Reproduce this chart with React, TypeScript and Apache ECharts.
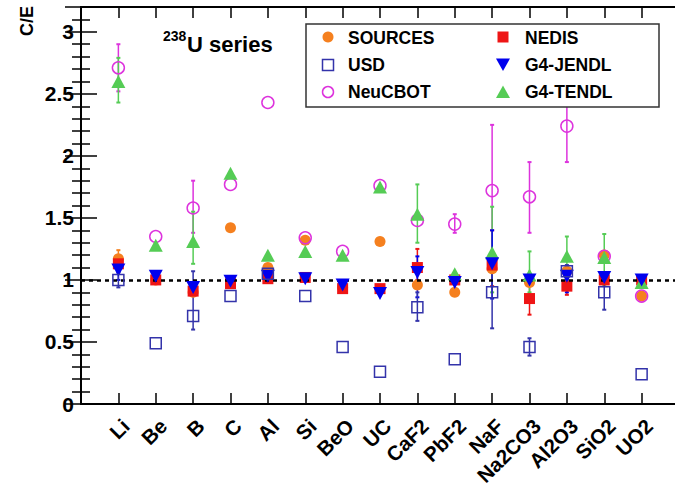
import React, { useEffect, useRef } from "react";
import * as echarts from "echarts";

const categories = ["Li", "Be", "B", "C", "Al", "Si", "BeO", "UC", "CaF2", "PbF2", "NaF", "Na2CO3", "Al2O3", "SiO2", "UO2"];

const sources = [1.17, 1.0, 0.9, 1.42, 1.1, 1.32, 0.94, 1.31, 0.96, 0.9, 1.09, 0.98, 1.07, 1.2, 0.87];
const nedis = [1.13, 1.0, 0.91, 0.97, 1.01, 1.02, 0.93, 0.93, 1.1, 1.0, 1.12, 0.85, 0.95, 1.0, 1.0];
const usd = [1.0, 0.49, 0.71, 0.87, 1.05, 0.87, 0.46, 0.26, 0.78, 0.36, 0.9, 0.46, 1.07, 0.9, 0.24];
const neucbot = [2.71, 1.35, 1.58, 1.77, 2.43, 1.34, 1.23, 1.76, 1.48, 1.45, 1.72, 1.67, 2.24, 1.19, 0.87];
const jendl = [1.08, 1.03, 0.94, 0.99, 1.03, 1.01, 0.96, 0.89, 1.06, 0.98, 1.13, 1.0, 1.03, 1.02, 1.0];
const tendl = [2.6, 1.28, 1.31, 1.86, 1.2, 1.23, 1.2, 1.75, 1.53, 1.05, 1.22, 1.04, 1.19, 1.18, 0.98];

// error bars: low / high (null = none)
const sourcesLo = [1.1, null, null, null, null, null, null, null, null, null, null, null, null, null, null];
const sourcesHi = [1.24, null, null, null, null, null, null, null, null, null, null, null, null, null, null];
const nedisLo = [1.07, null, null, null, null, null, null, null, 1.0, null, 0.95, 0.72, 0.88, null, null];
const nedisHi = [1.2, null, null, null, null, null, null, null, 1.25, null, 1.4, 0.98, 1.02, null, null];
const usdLo = [0.94, null, 0.6, null, null, null, null, null, 0.67, null, 0.61, 0.39, 1.0, 0.76, null];
const usdHi = [1.06, null, 1.07, null, null, null, null, null, 0.9, null, 1.19, 0.53, 1.12, 1.04, null];
const neucbotLo = [2.52, null, 1.38, null, null, null, null, null, null, 1.38, 1.2, 1.38, 1.95, null, null];
const neucbotHi = [2.9, null, 1.8, null, null, null, null, null, null, 1.53, 2.25, 1.95, 2.53, null, null];
const jendlLo = [1.0, null, null, null, null, null, null, null, 0.86, null, 0.85, null, 0.9, null, null];
const jendlHi = [1.15, null, null, null, null, null, null, null, 1.19, null, 1.4, null, 1.1, null, null];
const tendlLo = [2.43, null, 1.13, null, null, null, null, null, 1.3, null, 0.9, 0.9, 1.05, 0.95, null];
const tendlHi = [2.79, null, 1.55, null, null, null, null, null, 1.77, null, 1.59, 1.23, 1.35, 1.37, null];

const C_SOURCES = "#f5801f";
const C_NEDIS = "#ee1515";
const C_USD = "#3333aa";
const C_NEU = "#dd33dd";
const C_JENDL = "#0000ee";
const C_TENDL = "#55cc55";

const FONT = "Liberation Sans, Arial, Helvetica, sans-serif";

function errData(lo: (number | null)[], hi: (number | null)[]) {
  const out: number[][] = [];
  lo.forEach((l, i) => {
    const h = hi[i];
    if (l != null && h != null) out.push([i + 1, l, h]);
  });
  return out;
}

function errSeries(name: string, lo: (number | null)[], hi: (number | null)[], color: string) {
  return {
    type: "custom",
    name: name + "-err",
    data: errData(lo, hi),
    encode: { x: 0, y: [1, 2] },
    z: 2,
    silent: true,
    renderItem: (params: any, api: any) => {
      const x = api.value(0);
      const p1 = api.coord([x, api.value(1)]);
      const p2 = api.coord([x, api.value(2)]);
      const cap = 2;
      return {
        type: "group",
        children: [
          { type: "line", shape: { x1: p1[0], y1: p1[1], x2: p2[0], y2: p2[1] }, style: { stroke: color, lineWidth: 1.5 } },
          { type: "line", shape: { x1: p1[0] - cap, y1: p1[1], x2: p1[0] + cap, y2: p1[1] }, style: { stroke: color, lineWidth: 2 } },
          { type: "line", shape: { x1: p2[0] - cap, y1: p2[1], x2: p2[0] + cap, y2: p2[1] }, style: { stroke: color, lineWidth: 2 } },
        ],
      };
    },
  };
}

function pts(v: number[]) {
  return v.map((y, i) => [i + 1, y]);
}

export default function App() {
  const ref = useRef<HTMLDivElement>(null);
  useEffect(() => {
    if (!ref.current) return;
    const chart = echarts.init(ref.current, undefined, { renderer: "svg" });
    const yAxisBase = {
      type: "value",
      min: 0,
      max: 3.2,
      interval: 0.5,
      splitLine: { show: false },
      axisLine: { show: true, lineStyle: { color: "#000", width: 2 } },
      axisTick: { show: true, inside: true, length: 16, lineStyle: { color: "#000", width: 1.5 } },
      minorTick: { show: true, splitNumber: 5, length: 9, lineStyle: { color: "#000", width: 1.5 } },
      minorSplitLine: { show: false },
    };
    const xAxisBase = {
      type: "value",
      min: 0,
      max: 16,
      interval: 1,
      splitLine: { show: false },
      axisLine: { show: true, onZero: false, lineStyle: { color: "#000", width: 2 } },
      axisTick: { show: true, inside: true, length: 11, lineStyle: { color: "#000", width: 1.5 } },
    };
    const Z = 100;
    const legendText = (text: string, x: number, y: number) => ({
      type: "text",
      x,
      y,
      z: Z + 1,
      style: { text, font: `bold 17.5px ${FONT}`, fill: "#000", verticalAlign: "middle" },
    });
    const option: any = {
      animation: false,
      backgroundColor: "#fff",
      grid: { left: 81, top: 7, right: -4, bottom: 83, containLabel: false, outerBoundsMode: "none" },
      xAxis: [
        {
          ...xAxisBase,
          position: "bottom",
          axisLabel: {
            show: true,
            rotate: 45,
            margin: 11,
            align: "right",
            verticalAlign: "top",
            color: "#000",
            fontFamily: FONT,
            fontWeight: "bold",
            fontSize: 20.5,
            showMinLabel: false,
            showMaxLabel: false,
            formatter: (v: number) => categories[Math.round(v) - 1] ?? "",
          },
        },
        { ...xAxisBase, position: "top", axisLabel: { show: false } },
      ],
      yAxis: [
        {
          ...yAxisBase,
          position: "left",
          axisLabel: {
            show: true,
            margin: 7,
            color: "#000",
            fontFamily: FONT,
            fontWeight: "bold",
            fontSize: 21,
            showMaxLabel: false,
          },
        },
        { ...yAxisBase, position: "right", axisLabel: { show: false } },
      ],
      graphic: [
        {
          type: "text",
          x: 27,
          y: 21,
          rotation: Math.PI / 2,
          style: { text: "C/E", font: `bold 18px ${FONT}`, fill: "#000", align: "center", verticalAlign: "middle" },
        },
        { type: "text", x: 163, y: 29, style: { text: "238", font: `bold 14px ${FONT}`, fill: "#000" } },
        { type: "text", x: 187, y: 33, style: { text: "U series", font: `bold 22px ${FONT}`, fill: "#000" } },
        { type: "rect", z: Z, shape: { x: 306, y: 24, width: 353, height: 83 }, style: { fill: "#fff", stroke: "#333", lineWidth: 1.5 } },
        { type: "circle", z: Z + 1, shape: { cx: 328, cy: 37, r: 5.5 }, style: { fill: C_SOURCES } },
        { type: "rect", z: Z + 1, shape: { x: 322.5, y: 59.5, width: 11, height: 11 }, style: { fill: "none", stroke: C_USD, lineWidth: 1.5 } },
        { type: "circle", z: Z + 1, shape: { cx: 328, cy: 92, r: 5.5 }, style: { fill: "none", stroke: C_NEU, lineWidth: 1.5 } },
        { type: "rect", z: Z + 1, shape: { x: 497.5, y: 31.5, width: 11, height: 11 }, style: { fill: C_NEDIS } },
        { type: "polygon", z: Z + 1, shape: { points: [[496, 58.5], [510, 58.5], [503, 71]] }, style: { fill: C_JENDL } },
        { type: "polygon", z: Z + 1, shape: { points: [[503, 85.5], [510, 98], [496, 98]] }, style: { fill: C_TENDL } },
        legendText("SOURCES", 348, 38),
        legendText("USD", 348, 65),
        legendText("NeuCBOT", 348, 92),
        legendText("NEDIS", 525, 38),
        legendText("G4-JENDL", 525, 65),
        legendText("G4-TENDL", 525, 92),
      ],
      series: [
        errSeries("SOURCES", sourcesLo, sourcesHi, C_SOURCES),
        errSeries("NEDIS", nedisLo, nedisHi, C_NEDIS),
        errSeries("NeuCBOT", neucbotLo, neucbotHi, C_NEU),
        errSeries("G4-TENDL", tendlLo, tendlHi, C_TENDL),
        errSeries("G4-JENDL", jendlLo, jendlHi, C_JENDL),
        errSeries("USD", usdLo, usdHi, C_USD),
        {
          type: "scatter",
          name: "SOURCES",
          data: pts(sources),
          symbol: "circle",
          symbolSize: 11,
          itemStyle: { color: C_SOURCES, opacity: 1 },
          z: 3,
          markLine: {
            silent: true,
            symbol: "none",
            label: { show: false },
            lineStyle: { color: "#000", type: [4, 4], width: 2.5 },
            data: [{ yAxis: 1 }],
          },
        },
        {
          type: "scatter",
          name: "NEDIS",
          data: pts(nedis),
          symbol: "rect",
          symbolSize: 11,
          itemStyle: { color: C_NEDIS, opacity: 1 },
          z: 4,
        },
        {
          type: "scatter",
          name: "NeuCBOT",
          data: pts(neucbot),
          symbol: "circle",
          symbolSize: 12,
          itemStyle: { color: "rgba(0,0,0,0)", borderColor: C_NEU, borderWidth: 1.5, opacity: 1 },
          z: 5,
        },
        {
          type: "scatter",
          name: "G4-TENDL",
          data: pts(tendl),
          symbol: "triangle",
          symbolSize: [14, 13],
          itemStyle: { color: C_TENDL, opacity: 1 },
          z: 6,
        },
        {
          type: "scatter",
          name: "G4-JENDL",
          data: pts(jendl),
          symbol: "triangle",
          symbolRotate: 180,
          symbolSize: [14, 13],
          itemStyle: { color: C_JENDL, opacity: 1 },
          z: 7,
        },
        {
          type: "scatter",
          name: "USD",
          data: pts(usd),
          symbol: "rect",
          symbolSize: 11,
          itemStyle: { color: "rgba(0,0,0,0)", borderColor: C_USD, borderWidth: 1.5, opacity: 1 },
          z: 8,
        },
      ],
    };
    chart.setOption(option);
    return () => chart.dispose();
  }, []);
  return <div ref={ref} style={{ position: "fixed", left: 0, top: 0, width: 675, height: 487 }} />;
}
